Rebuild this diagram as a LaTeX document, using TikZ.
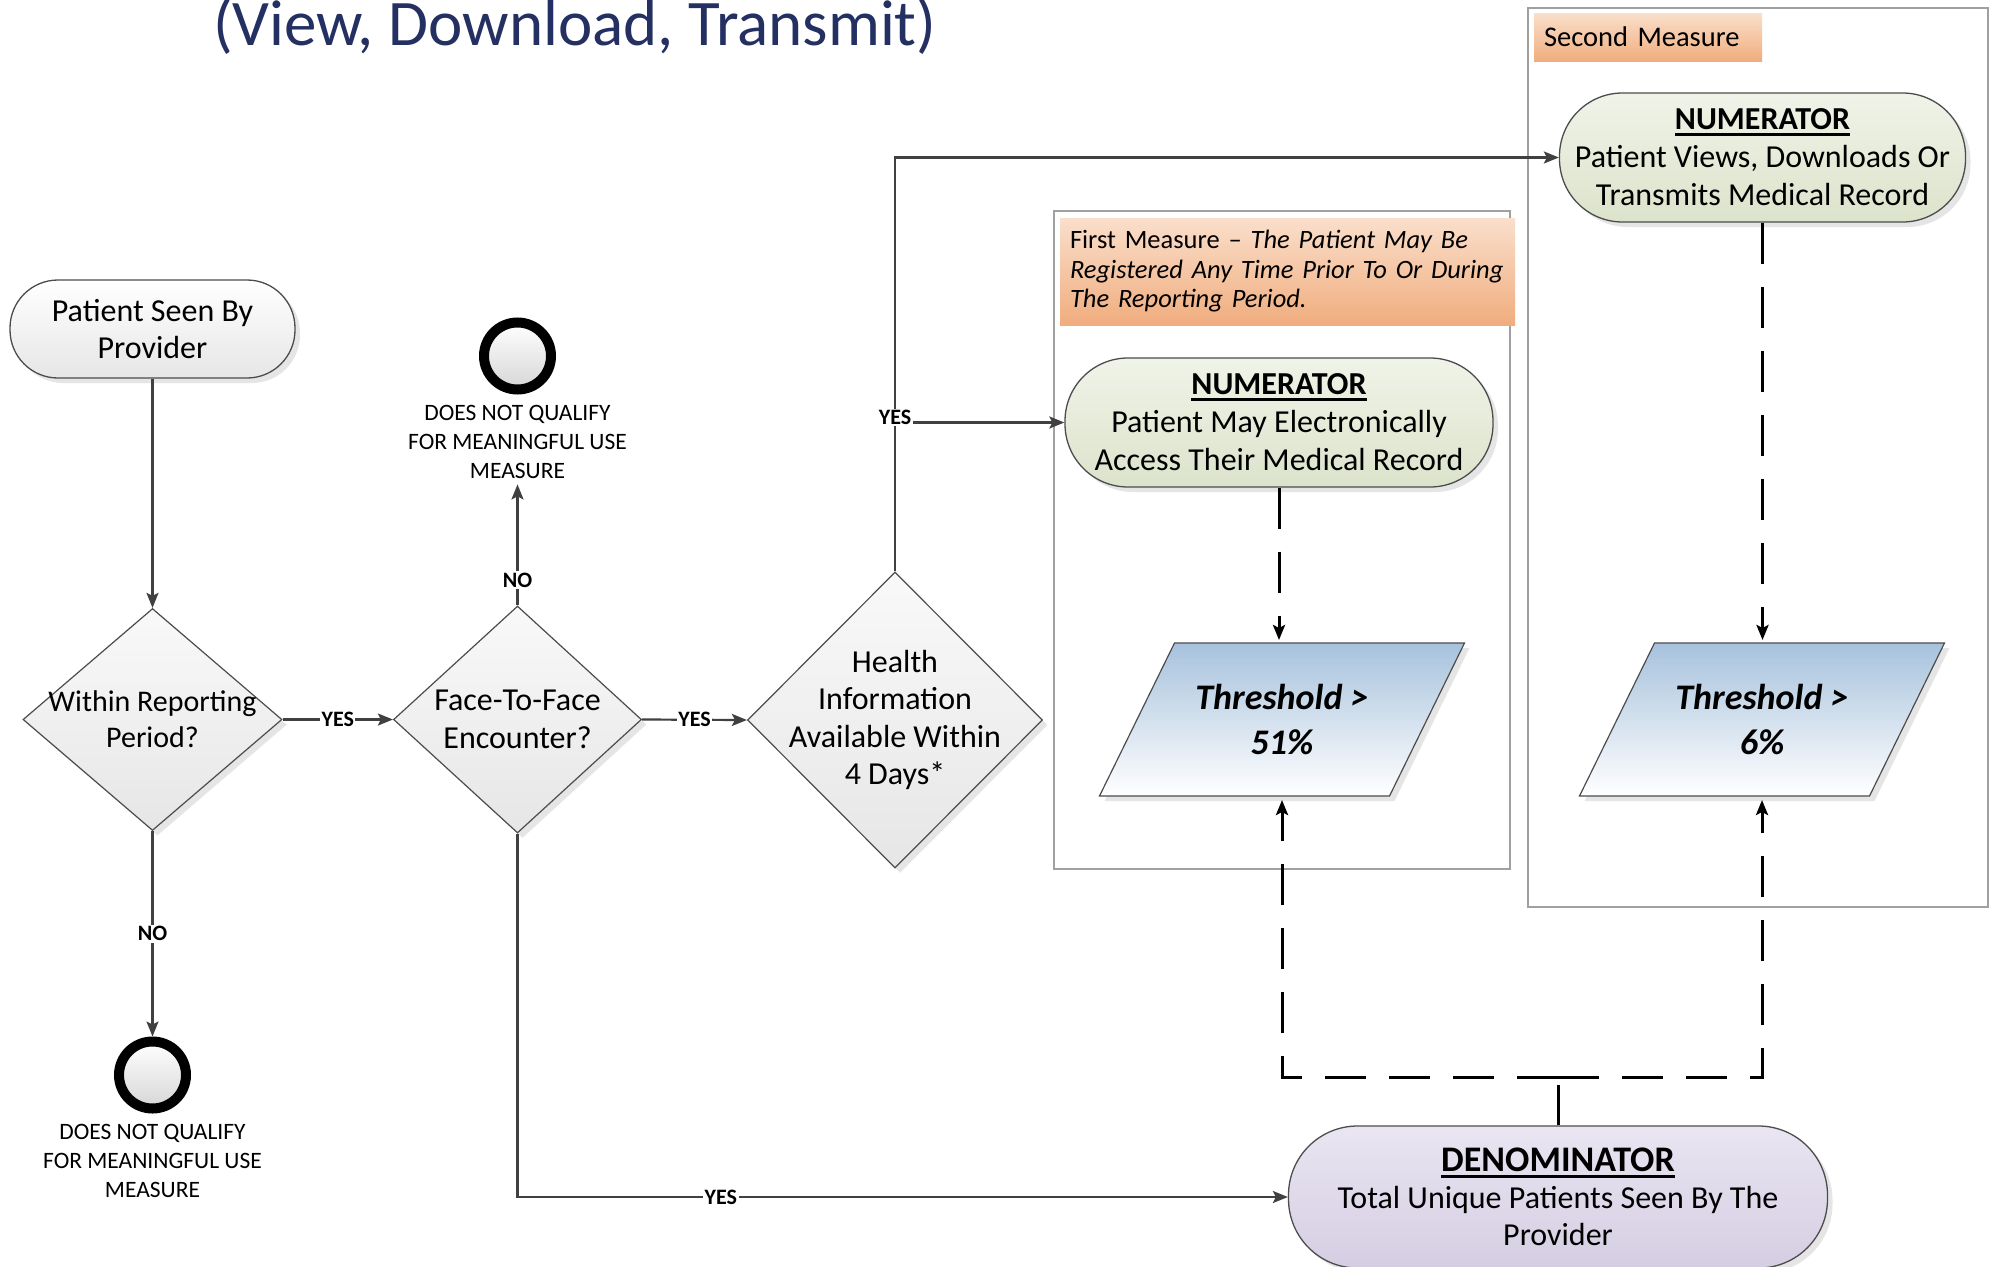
\documentclass[tikz,border=0pt]{standalone}
\usepackage{fontspec}
\setmainfont{Carlito}
\usetikzlibrary{shapes.geometric,arrows.meta,shadows}
\definecolor{titlecol}{HTML}{243062}
\definecolor{linecol}{HTML}{404040}
\definecolor{framecol}{HTML}{A0A0A0}
\definecolor{diaTop}{HTML}{F9F9F9}
\definecolor{diaBot}{HTML}{E6E6E6}
\definecolor{psBot}{HTML}{E6E6E6}
\definecolor{numTop}{HTML}{F0F3E8}
\definecolor{numBot}{HTML}{DCE3CB}
\definecolor{denTop}{HTML}{E9E5F1}
\definecolor{denBot}{HTML}{D5CEE3}
\definecolor{hdrTop}{HTML}{FADFCB}
\definecolor{hdrBot}{HTML}{F0AD7E}
\definecolor{thrTop}{HTML}{A7C2DD}
\definecolor{circBot}{HTML}{D6D6D6}
\newsavebox\ulbox
\newcommand\myul[1]{\sbox\ulbox{#1}\rlap{\rule[-0.18em]{\wd\ulbox}{0.08em}}\usebox\ulbox}
\tikzset{
  conn/.style={draw=linecol, line width=2.2pt, -{Stealth[length=15pt,width=12pt,inset=3pt]}},
  plainln/.style={draw=black, line width=3pt},
  dsh/.style={draw=black, line width=3pt, dash pattern=on 41pt off 23pt, -{Stealth[length=15pt,width=12pt,inset=3pt]}},
  lbl/.style={font=\fontsize{22}{26}\selectfont\bfseries, fill=white, inner sep=1.5pt},
  body/.style={font=\fontsize{32}{37.5}\selectfont, align=center},
  shad/.style={drop shadow={shadow xshift=5pt, shadow yshift=-5pt, fill=black!20}},
  stadium/.style={rectangle, draw=black!70, line width=1.3pt, inner sep=0pt, shad},
  dia/.style={diamond, draw=black!70, line width=1.2pt, inner sep=0pt, top color=diaTop, bottom color=diaBot, shad},
  endc/.style={circle, draw=black, line width=10pt, minimum size=67pt, inner sep=0pt, top color=white, bottom color=circBot},
  smalltxt/.style={font=\fontsize{23.5}{29}\selectfont, align=center, inner sep=6pt},
  frame/.style={rectangle, draw=framecol, line width=2pt, inner sep=0pt},
  hdr/.style={rectangle, inner sep=0pt, inner xsep=10pt, top color=hdrTop, bottom color=hdrBot, align=left, font=\fontsize{26.5}{29.5}\selectfont},
  thrbox/.style={rectangle, minimum width=290pt, minimum height=153pt, inner sep=0pt, outer sep=0pt},
  thrshape/.style={draw=black!70, line width=1.2pt, top color=thrTop, bottom color=white, shad},
  thrtext/.style={align=center, inner sep=0pt, font=\fontsize{36}{44.5}\selectfont\bfseries\itshape},
}
\begin{document}
\begin{tikzpicture}[x=1pt,y=-1pt]
\useasboundingbox (0,0) rectangle (1993,1266);
\fill[white] (0,0) rectangle (1993,1266);

\node[anchor=base west, font=\fontsize{65}{70}\selectfont, text=titlecol, inner sep=0pt] (title) at (213,45) {(View, Download, Transmit)};

% measure frames
\node[frame, minimum width=456pt, minimum height=658pt] (f1) at (1282,540) {};
\node[frame, minimum width=460pt, minimum height=899pt] (f2) at (1758,457.5) {};
\node[hdr, text width=435pt, minimum height=107pt] (h1) at (1287.5,271.5) {First Measure – \textit{The Patient May Be}\\\textit{Registered Any Time Prior To Or During}\\\textit{The Reporting Period.}};
\node[hdr, text width=208pt, minimum height=48pt, font=\fontsize{28.5}{30}\selectfont] (h2) at (1648,37) {Second Measure};

% start
\node[stadium, rounded corners=48pt, minimum width=285pt, minimum height=98pt, top color=white, bottom color=psBot, body] (ps) at (152.5,329) {Patient Seen By\\Provider};

% decisions
\node[dia, minimum width=259pt, minimum height=222pt, label={[body, font=\fontsize{30}{36}\selectfont]center:{Within Reporting\\Period?}}] (d1) at (152.5,719.5) {};
\node[dia, minimum width=248pt, minimum height=227pt, label={[body]center:{Face-To-Face\\Encounter?}}] (d2) at (517.5,719.5) {};
\node[dia, minimum width=295pt, minimum height=296pt, label={[body]center:{Health\\Information\\Available Within\\4 Days*}}] (d3) at (895,720) {};

% terminators
\node[endc] (c2) at (517.5,356) {};
\node[smalltxt] (t2) at (517.5,441.5) {DOES NOT QUALIFY\\FOR MEANINGFUL USE\\MEASURE};
\node[endc] (c1) at (152.5,1075) {};
\node[smalltxt] (t1) at (152.5,1160.5) {DOES NOT QUALIFY\\FOR MEANINGFUL USE\\MEASURE};

% numerators / denominator
\node[stadium, rounded corners=63pt, minimum width=428pt, minimum height=129pt, top color=numTop, bottom color=numBot, body, font=\fontsize{32}{38}\selectfont] (n1) at (1279,422.5) {\textbf{\myul{NUMERATOR}}\\Patient May Electronically\\Access Their Medical Record};
\node[stadium, rounded corners=63pt, minimum width=406pt, minimum height=129pt, top color=numTop, bottom color=numBot, body, font=\fontsize{32}{38}\selectfont] (n2) at (1762.5,157.5) {\textbf{\myul{NUMERATOR}}\\Patient Views, Downloads Or\\Transmits Medical Record};
\node[stadium, rounded corners=69pt, minimum width=539pt, minimum height=142pt, top color=denTop, bottom color=denBot, body, font=\fontsize{32}{37}\selectfont] (den) at (1558,1197) {{\fontsize{36}{40}\selectfont\textbf{\myul{DENOMINATOR}}}\\Total Unique Patients Seen By The\\Provider};

% thresholds
\node[thrbox] (thr1) at (1282,719.5) {};
\shade[thrshape] ([xshift=37.5pt]thr1.north west) -- ([xshift=37.5pt]thr1.north east) -- ([xshift=-37.5pt]thr1.south east) -- ([xshift=-37.5pt]thr1.south west) -- cycle;
\node[thrtext] (thr1t) at (thr1.center) {Threshold >\\51\%};
\node[thrbox] (thr2) at (1762,719.5) {};
\shade[thrshape] ([xshift=37.5pt]thr2.north west) -- ([xshift=37.5pt]thr2.north east) -- ([xshift=-37.5pt]thr2.south east) -- ([xshift=-37.5pt]thr2.south west) -- cycle;
\node[thrtext] (thr2t) at (thr2.center) {Threshold >\\6\%};

% connectors
\draw[conn] (ps.south) -- (d1.north);
\draw[conn] (d1.east) -- node[lbl]{YES} (d2.west);
\draw[conn] (d1.south) -- node[lbl]{NO} (c1.north);
\draw[conn] (d2.north) -- node[lbl, pos=0.21]{NO} (t2.south);
\draw[conn] (d2.east) -- node[lbl]{YES} (d3.west);
\draw[conn] (d3.north) |- (n2.west);
\draw[conn] (d3.north) |- node[lbl, pos=0.5, yshift=5pt]{YES} (n1.west);
\draw[conn] (d2.south) |- node[lbl, pos=0.632]{YES} (den.west);

\coordinate (jn) at (1558,1085);
\coordinate (jd) at (1558,1077);
\draw[plainln] (den.north) -- (jn);
\draw[dsh] (jd) -| ([yshift=-4pt]thr1.south);
\draw[dsh] (jd) -| ([yshift=-4pt]thr2.south);
\draw[dsh] (n1.south) -- ([yshift=3pt]n1.south |- thr1.north);
\draw[dsh] (n2.south) -- ([yshift=3pt]n2.south |- thr2.north);
\end{tikzpicture}
\end{document}
